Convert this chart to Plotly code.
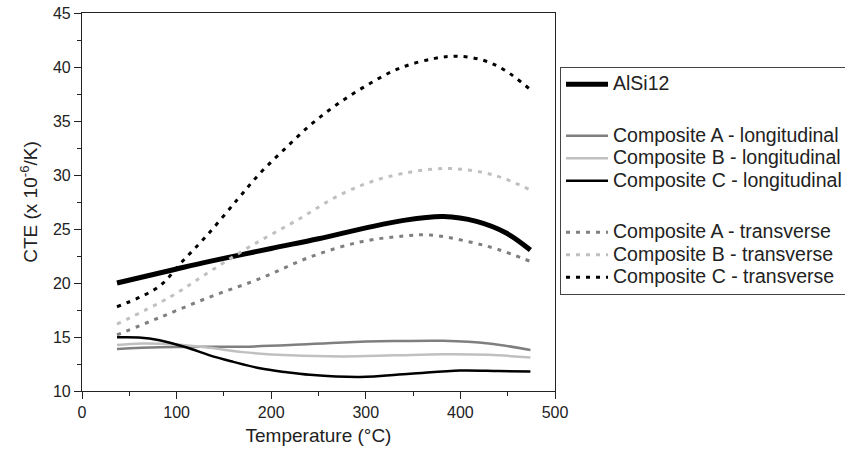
import plotly.graph_objects as go

# Data (Temperature in °C, CTE in 1e-6/K)
alsi12_T = [37, 100, 135, 200, 250, 300, 340, 382, 417, 449, 474]
alsi12_v = [20.0, 21.3, 22.0, 23.2, 24.1, 25.1, 25.8, 26.15, 25.7, 24.6, 23.05]

a_long_T = [37, 82, 130, 170, 220, 276, 330, 382, 430, 474]
a_long_v = [13.9, 14.05, 14.1, 14.1, 14.25, 14.5, 14.62, 14.65, 14.4, 13.8]

b_long_T = [37, 63, 100, 135, 170, 220, 276, 330, 382, 430, 474]
b_long_v = [14.25, 14.4, 14.3, 14.0, 13.6, 13.3, 13.2, 13.3, 13.4, 13.35, 13.1]

c_long_T = [37, 60, 82, 110, 135, 160, 188, 215, 241, 294, 347, 400, 440, 474]
c_long_v = [14.97, 14.95, 14.7, 14.05, 13.3, 12.7, 12.1, 11.75, 11.5, 11.3, 11.6, 11.9, 11.85, 11.8]

a_tran_T = [37, 82, 135, 188, 241, 294, 340, 368, 410, 440, 474]
a_tran_v = [15.2, 16.8, 18.7, 20.4, 22.4, 23.8, 24.35, 24.45, 23.8, 23.1, 22.0]

b_tran_T = [37, 93, 135, 178, 227, 276, 322, 385, 435, 474]
b_tran_v = [16.2, 18.7, 21.05, 23.4, 25.8, 28.3, 29.8, 30.6, 30.0, 28.6]

c_tran_T = [37, 81, 105, 132, 164, 188, 213, 241, 269, 301, 336, 373, 398, 425, 447, 474]
c_tran_v = [17.8, 19.65, 21.9, 24.4, 27.7, 30.15, 32.3, 34.6, 36.5, 38.3, 39.9, 40.8, 41.0, 40.6, 39.7, 37.9]

names = ["AlSi12",
         "Composite A - longitudinal", "Composite B - longitudinal", "Composite C - longitudinal",
         "Composite A - transverse", "Composite B - transverse", "Composite C - transverse"]

MID = "#7f7f7f"
LIGHT = "#c0c0c0"
BLACK = "#000000"
DOT = "4px,6px"
FONT = "Liberation Sans, Arial, sans-serif"

fig = go.Figure()
series = [
    (alsi12_T, alsi12_v, names[0], BLACK, 5, "solid", "g1"),
    (a_long_T, a_long_v, names[1], MID, 2.5, "solid", "g2"),
    (b_long_T, b_long_v, names[2], LIGHT, 2.5, "solid", "g2"),
    (c_long_T, c_long_v, names[3], BLACK, 2.5, "solid", "g2"),
    (a_tran_T, a_tran_v, names[4], MID, 3, DOT, "g3"),
    (b_tran_T, b_tran_v, names[5], LIGHT, 3, DOT, "g3"),
    (c_tran_T, c_tran_v, names[6], BLACK, 3, DOT, "g3"),
]
for T, v, n, c, w, d, g in series:
    fig.add_trace(go.Scatter(x=T, y=v, name='<span style="font-size:19.5px">' + n + '</span>',
                             mode="lines", legendgroup=g,
                             line=dict(color=c, width=w, dash=d, shape="spline", smoothing=1.0)))

axis_common = dict(showgrid=False, zeroline=False, showline=True, linecolor="#222", linewidth=1.2,
                   mirror=True, ticks="outside", ticklen=7, tickwidth=1.2, tickcolor="#222",
                   tickfont=dict(size=16, color="#222", family=FONT))

fig.update_xaxes(range=[0, 500], dtick=100, tick0=0,
                 minor=dict(ticks="outside", ticklen=4, dtick=50, tickcolor="#222", tickwidth=1.2),
                 title=dict(text="Temperature (°C)", font=dict(size=19, color="#222", family=FONT), standoff=8),
                 **axis_common)
fig.update_yaxes(range=[10, 45], dtick=5, tick0=10,
                 minor=dict(ticks="outside", ticklen=4, dtick=2.5, tickcolor="#222", tickwidth=1.2),
                 title=dict(text="CTE (x 10<sup>-6</sup>/K)", font=dict(size=19, color="#222", family=FONT), standoff=10),
                 **axis_common)

fig.update_layout(
    width=845, height=456,
    margin=dict(l=82, r=290, t=13, b=65, autoexpand=False),
    paper_bgcolor="white", plot_bgcolor="white",
    font=dict(family=FONT, color="#222"),
    legend=dict(x=1.0106, y=0.857, xanchor="left", yanchor="top",
                bordercolor="#444", borderwidth=1, bgcolor="white",
                font=dict(size=15, color="#222", family=FONT), traceorder="grouped",
                tracegroupgap=29, itemwidth=42),
)

fig.write_html("out.html", config={"displayModeBar": False},
               post_script="document.body.style.margin='0px';")
